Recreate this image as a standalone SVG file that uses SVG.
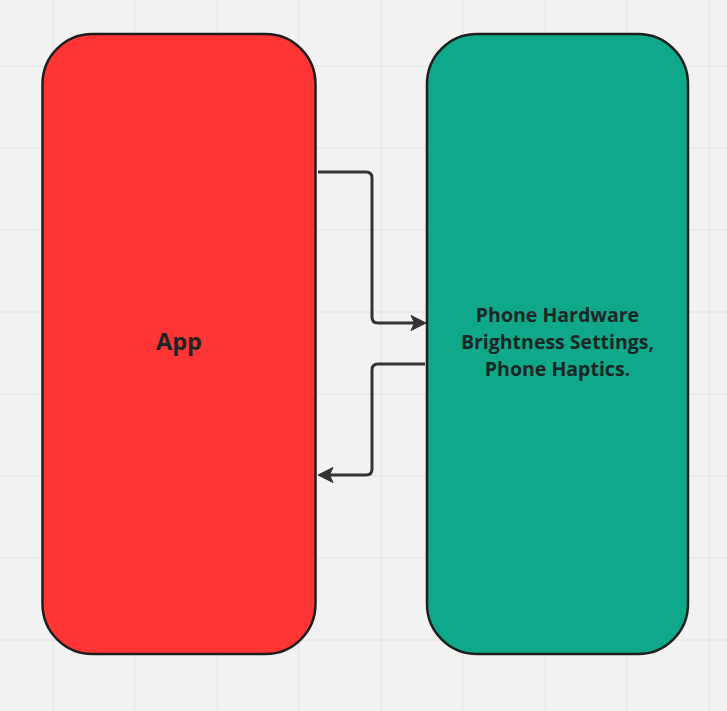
<svg xmlns="http://www.w3.org/2000/svg" width="727" height="711" viewBox="0 0 727 711">
<style>
.grid{stroke:#e2e2e2;stroke-width:1}
.node{stroke:#1e1e1e;stroke-width:2.5}
.lbl{font-family:"Open Sans","Noto Sans",sans-serif;font-weight:bold;fill:#1a2626;text-anchor:middle}
.conn{fill:none;stroke:#333333;stroke-width:3;stroke-linejoin:round}
.head{fill:#333333;stroke:#333333;stroke-width:1;stroke-linejoin:round}
</style>
<rect width="727" height="711" fill="#f2f2f2"/>
<g id="grid" class="grid">
<line x1="53" y1="0" x2="53" y2="711"/><line x1="135" y1="0" x2="135" y2="711"/><line x1="217" y1="0" x2="217" y2="711"/><line x1="299" y1="0" x2="299" y2="711"/><line x1="381" y1="0" x2="381" y2="711"/><line x1="463" y1="0" x2="463" y2="711"/><line x1="545" y1="0" x2="545" y2="711"/><line x1="627" y1="0" x2="627" y2="711"/><line x1="709" y1="0" x2="709" y2="711"/>
<line x1="0" y1="66" x2="727" y2="66"/><line x1="0" y1="148" x2="727" y2="148"/><line x1="0" y1="230" x2="727" y2="230"/><line x1="0" y1="312" x2="727" y2="312"/><line x1="0" y1="394" x2="727" y2="394"/><line x1="0" y1="476" x2="727" y2="476"/><line x1="0" y1="558" x2="727" y2="558"/><line x1="0" y1="640" x2="727" y2="640"/>
</g>
<g id="connectors">
<path class="conn" d="M318,172 H366 Q372,172 372,178 V317 Q372,323 378,323 H416"/>
<path class="head" d="M426,323 L411,315.5 L414.5,323 L411,330.5 Z"/>
<path class="conn" d="M425,364 H378 Q372,364 372,370 V469 Q372,475 366,475 H328"/>
<path class="head" d="M318,475 L333,467.5 L329.5,475 L333,482.5 Z"/>
</g>
<g id="app">
<rect class="node" x="42.5" y="34" width="273" height="620" rx="50" ry="50" fill="#ff3434"/>
<text class="lbl" x="179" y="350" font-size="23.5">App</text>
</g>
<g id="phone">
<rect class="node" x="427" y="34" width="261" height="620" rx="50" ry="50" fill="#10a88a"/>
<text class="lbl" font-size="19.5"><tspan x="557.5" y="322">Phone Hardware</tspan><tspan x="557.5" y="349">Brightness Settings,</tspan><tspan x="557.5" y="376">Phone Haptics.</tspan></text>
</g>
</svg>
